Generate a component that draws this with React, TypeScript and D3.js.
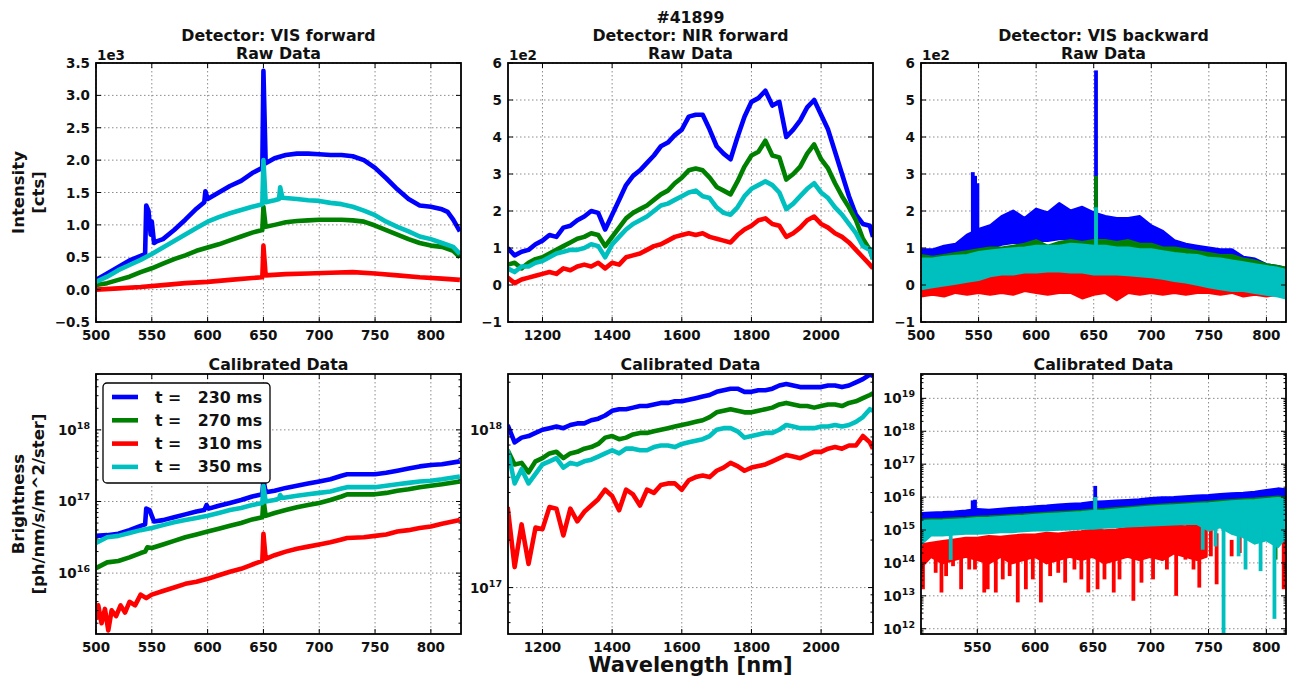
import React from 'react';
import * as d3 from 'd3';

const FONT = '"DejaVu Sans", "Liberation Sans", sans-serif';

const seriesColors = ['#0000ff', '#008000', '#ff0000', '#00bfbf'];
const seriesLabels = ['t =   230 ms', 't =   270 ms', 't =   310 ms', 't =   350 ms'];

// ---- VIS forward, raw data (units of 1e3 cts), [wavelength nm, value]
const visFwdRawBlue: [number, number][] = [
  [500, 0.15], [510, 0.25], [520, 0.35], [530, 0.45], [540, 0.52], [544, 0.55], [545, 1.3], [547, 1.22],
  [549, 0.85], [550, 1.05], [552, 0.72], [555, 0.75], [560, 0.78], [570, 0.92], [580, 1.08], [590, 1.25], [597, 1.35],
  [598, 1.52], [600, 1.4], [610, 1.5], [620, 1.6], [630, 1.68], [640, 1.8], [649, 1.88], [650, 3.38],
  [652, 1.95], [660, 2.03], [670, 2.08], [680, 2.1], [690, 2.1], [700, 2.09], [710, 2.08], [720, 2.08],
  [730, 2.06], [740, 2.0], [750, 1.88], [760, 1.72], [770, 1.55], [780, 1.4], [790, 1.3], [800, 1.28],
  [810, 1.24], [815, 1.2], [820, 1.08], [826, 0.9],
];
const visFwdRawGreen: [number, number][] = [
  [500, 0.07], [510, 0.1], [520, 0.15], [530, 0.2], [540, 0.27], [550, 0.33], [560, 0.4], [570, 0.47],
  [580, 0.53], [590, 0.6], [600, 0.65], [610, 0.7], [620, 0.76], [630, 0.82], [640, 0.88], [649, 0.92],
  [650, 1.28], [652, 0.97], [660, 1.0], [670, 1.04], [680, 1.06], [690, 1.07], [700, 1.08], [710, 1.08],
  [720, 1.08], [730, 1.07], [740, 1.05], [750, 0.99], [760, 0.92], [770, 0.85], [780, 0.78], [790, 0.72],
  [800, 0.68], [810, 0.66], [820, 0.6], [826, 0.5],
];
const visFwdRawRed: [number, number][] = [
  [500, 0.0], [520, 0.02], [540, 0.04], [560, 0.07], [580, 0.1], [600, 0.12], [620, 0.15], [640, 0.18],
  [649, 0.19], [650, 0.68], [652, 0.22], [670, 0.24], [690, 0.25], [710, 0.26], [730, 0.27], [750, 0.25],
  [770, 0.22], [790, 0.19], [810, 0.17], [826, 0.15],
];
const visFwdRawCyan: [number, number][] = [
  [500, 0.12], [510, 0.2], [520, 0.3], [530, 0.38], [540, 0.46], [550, 0.55], [560, 0.65], [570, 0.75],
  [580, 0.85], [590, 0.95], [600, 1.05], [610, 1.12], [620, 1.18], [630, 1.23], [640, 1.28], [649, 1.32],
  [650, 2.0], [652, 1.35], [660, 1.38], [664, 1.4], [665, 1.58], [667, 1.42], [680, 1.4], [690, 1.38],
  [700, 1.37], [710, 1.34], [720, 1.32], [730, 1.28], [740, 1.22], [750, 1.15], [760, 1.05], [770, 0.97],
  [780, 0.9], [790, 0.82], [800, 0.78], [810, 0.72], [820, 0.66], [826, 0.55],
];

// ---- NIR forward wavelengths (nm)
const nirWl = [
  1100, 1120, 1140, 1160, 1180, 1200, 1220, 1240, 1260, 1280, 1300, 1320, 1340, 1360, 1380, 1400, 1420, 1440,
  1460, 1480, 1500, 1520, 1540, 1560, 1580, 1600, 1620, 1640, 1660, 1680, 1700, 1720, 1740, 1760, 1780, 1800,
  1820, 1840, 1860, 1880, 1900, 1920, 1940, 1960, 1980, 2000, 2020, 2040, 2060, 2080, 2100, 2120, 2140, 2149,
];
// raw data, units of 1e2 cts
const nirRawBlue = [
  1.0, 0.8, 0.9, 0.95, 1.1, 1.2, 1.35, 1.3, 1.55, 1.6, 1.75, 1.85, 2.0, 1.95, 1.5, 1.9, 2.3, 2.7,
  2.95, 3.1, 3.3, 3.5, 3.75, 3.85, 4.05, 4.2, 4.55, 4.6, 4.6, 4.2, 3.75, 3.55, 3.4, 4.0, 4.55, 4.95,
  5.05, 5.25, 4.85, 4.95, 4.0, 4.2, 4.45, 4.8, 5.0, 4.6, 4.2, 3.6, 3.0, 2.4, 1.9, 1.65, 1.6, 1.3,
];
const nirRawGreen = [
  0.55, 0.6, 0.45, 0.6, 0.7, 0.75, 0.85, 0.95, 1.05, 1.15, 1.25, 1.3, 1.4, 1.35, 1.05, 1.3, 1.55, 1.8,
  1.95, 2.05, 2.15, 2.3, 2.45, 2.55, 2.75, 2.9, 3.1, 3.15, 3.1, 2.9, 2.65, 2.55, 2.45, 2.8, 3.2, 3.5,
  3.6, 3.9, 3.5, 3.45, 2.85, 3.0, 3.2, 3.55, 3.8, 3.4, 3.15, 2.75, 2.4, 2.1, 1.75, 1.25, 0.95, 0.7,
];
const nirRawRed = [
  0.2, 0.05, 0.15, 0.2, 0.25, 0.3, 0.35, 0.3, 0.45, 0.4, 0.5, 0.55, 0.5, 0.6, 0.45, 0.6, 0.55, 0.75,
  0.8, 0.85, 0.95, 1.05, 1.1, 1.2, 1.3, 1.35, 1.4, 1.35, 1.4, 1.3, 1.25, 1.2, 1.15, 1.35, 1.5, 1.6,
  1.75, 1.8, 1.65, 1.6, 1.3, 1.4, 1.55, 1.75, 1.85, 1.65, 1.55, 1.4, 1.3, 1.15, 0.95, 0.75, 0.55, 0.45,
];
const nirRawCyan = [
  0.45, 0.35, 0.5, 0.5, 0.6, 0.65, 0.75, 0.85, 0.9, 0.95, 0.95, 1.0, 1.1, 1.05, 0.75, 1.1, 1.3, 1.5,
  1.65, 1.75, 1.85, 2.0, 2.15, 2.2, 2.3, 2.4, 2.5, 2.55, 2.4, 2.35, 2.1, 1.95, 1.9, 2.1, 2.4, 2.6,
  2.7, 2.8, 2.7, 2.5, 2.05, 2.2, 2.4, 2.6, 2.75, 2.5, 2.35, 2.1, 1.9, 1.65, 1.4, 1.05, 0.95, 0.7,
];

// ---- VIS backward raw (units of 1e2 cts): noise band edges
const visBwdWl = [
  500, 510, 520, 530, 540, 550, 560, 570, 580, 590, 600, 610, 620, 630, 640, 650, 660,
  670, 680, 690, 700, 710, 720, 730, 740, 750, 760, 770, 780, 790, 800, 810, 817,
];
const visBwdRawBlueHi = [
  0.95, 0.95, 1.05, 1.1, 1.35, 1.5, 1.6, 1.85, 2.0, 1.8, 2.05, 1.95, 2.2, 2.0, 2.1, 1.95, 1.85,
  1.8, 1.8, 1.85, 1.6, 1.45, 1.2, 1.1, 1.05, 1.0, 0.95, 0.95, 0.75, 0.7, 0.55, 0.5, 0.45,
];
const visBwdRawBlueLo = [
  0.55, 0.6, 0.65, 0.7, 0.8, 0.9, 1.0, 1.1, 1.15, 1.15, 1.2, 1.2, 1.25, 1.25, 1.2, 1.2, 1.1,
  1.05, 1.0, 0.95, 0.9, 0.8, 0.7, 0.6, 0.55, 0.5, 0.45, 0.4, 0.35, 0.3, 0.25, 0.2, 0.15,
];
const visBwdRawGreenHi = [
  0.8, 0.75, 0.8, 0.85, 0.9, 0.95, 1.0, 1.0, 1.05, 1.1, 1.2, 1.05, 1.15, 1.2, 1.15, 1.2, 1.2,
  1.15, 1.2, 1.1, 1.1, 1.0, 1.0, 0.95, 0.9, 0.85, 0.8, 0.8, 0.7, 0.65, 0.55, 0.5, 0.45,
];
const visBwdRawGreenLo = [
  0.1, 0.15, 0.2, 0.25, 0.3, 0.35, 0.4, 0.4, 0.45, 0.45, 0.45, 0.45, 0.45, 0.45, 0.45, 0.4, 0.4,
  0.4, 0.4, 0.35, 0.35, 0.3, 0.25, 0.2, 0.15, 0.1, 0.05, 0.0, 0.0, -0.05, -0.1, -0.15, -0.2,
];
const visBwdRawRedHi = [
  0.0, 0.05, 0.1, 0.15, 0.2, 0.3, 0.25, 0.3, 0.35, 0.3, 0.4, 0.35, 0.4, 0.35, 0.4, 0.35, 0.35,
  0.3, 0.35, 0.3, 0.25, 0.2, 0.2, 0.15, 0.1, 0.05, 0.05, 0.0, -0.05, -0.05, -0.1, -0.1, -0.15,
];
const visBwdRawRedLo = [
  -0.3, -0.25, -0.3, -0.2, -0.25, -0.2, -0.25, -0.2, -0.25, -0.15, -0.2, -0.25, -0.2, -0.2, -0.35, -0.25, -0.2,
  -0.4, -0.2, -0.25, -0.2, -0.25, -0.2, -0.25, -0.2, -0.2, -0.25, -0.2, -0.3, -0.25, -0.3, -0.25, -0.3,
];
const visBwdRawCyanHi = [
  0.7, 0.7, 0.75, 0.78, 0.8, 0.88, 0.92, 0.95, 0.98, 1.0, 1.05, 1.05, 1.05, 1.1, 1.08, 1.05, 1.05,
  1.0, 1.0, 0.95, 0.95, 0.9, 0.85, 0.82, 0.8, 0.72, 0.7, 0.65, 0.6, 0.55, 0.5, 0.45, 0.4,
];
const visBwdRawCyanLo = [
  -0.1, -0.05, 0.0, 0.05, 0.1, 0.15, 0.25, 0.3, 0.3, 0.35, 0.35, 0.38, 0.38, 0.35, 0.35, 0.3, 0.3,
  0.3, 0.28, 0.25, 0.22, 0.18, 0.12, 0.08, 0.02, -0.05, -0.1, -0.15, -0.15, -0.2, -0.25, -0.3, -0.35,
];
// line peaks [wavelength, value]
const visBwdRawBluePeaks: [number, number][] = [[545, 3.05], [547, 2.95], [549, 2.75], [652, 5.8]];
const visBwdRawGreenPeaks: [number, number][] = [[652, 2.95]];
const visBwdRawCyanPeaks: [number, number][] = [[652, 2.1]];

// ---- VIS forward, calibrated (log10 of ph/nm/s/m^2/ster)
const visFwdCalBlue: [number, number][] = [
  [500, 16.52], [510, 16.53], [520, 16.55], [530, 16.6], [540, 16.66], [544, 16.68], [545, 16.9], [548, 16.88],
  [550, 16.8], [552, 16.72], [560, 16.74], [570, 16.78], [580, 16.82], [590, 16.86], [597, 16.88], [599, 16.95],
  [601, 16.9], [610, 16.94], [620, 16.98], [630, 17.02], [640, 17.07], [649, 17.1], [650, 17.3], [652, 17.13],
  [660, 17.15], [670, 17.19], [680, 17.22], [690, 17.25], [700, 17.28], [710, 17.31], [720, 17.36], [725, 17.38],
  [740, 17.38], [750, 17.38], [760, 17.4], [770, 17.43], [780, 17.46], [790, 17.49], [800, 17.51], [810, 17.52],
  [826, 17.56],
];
const visFwdCalGreen: [number, number][] = [
  [500, 16.07], [510, 16.15], [520, 16.17], [530, 16.22], [540, 16.28], [544, 16.3], [546, 16.36], [550, 16.35],
  [560, 16.4], [570, 16.45], [580, 16.5], [590, 16.54], [600, 16.58], [610, 16.62], [620, 16.66], [630, 16.7],
  [640, 16.75], [649, 16.78], [650, 17.03], [652, 16.8], [660, 16.84], [670, 16.88], [680, 16.92], [690, 16.95],
  [700, 16.98], [710, 17.02], [720, 17.07], [725, 17.1], [740, 17.1], [750, 17.1], [760, 17.12], [770, 17.15],
  [780, 17.17], [790, 17.2], [800, 17.22], [810, 17.24], [826, 17.28],
];
const visFwdCalRed: [number, number][] = [
  [500, 15.35], [502, 15.55], [505, 15.3], [508, 15.5], [511, 15.2], [514, 15.48], [518, 15.4], [522, 15.55],
  [526, 15.45], [530, 15.6], [535, 15.55], [540, 15.7], [545, 15.65], [550, 15.7], [560, 15.75], [570, 15.8],
  [580, 15.85], [590, 15.88], [600, 15.92], [610, 15.97], [620, 16.02], [630, 16.06], [640, 16.12], [649, 16.17],
  [650, 16.55], [652, 16.2], [660, 16.25], [670, 16.3], [680, 16.34], [690, 16.37], [700, 16.4], [710, 16.43],
  [720, 16.47], [725, 16.49], [740, 16.5], [750, 16.52], [760, 16.54], [770, 16.58], [780, 16.6], [790, 16.63],
  [800, 16.65], [810, 16.69], [826, 16.74],
];
const visFwdCalCyan: [number, number][] = [
  [500, 16.42], [510, 16.5], [520, 16.52], [530, 16.56], [540, 16.6], [550, 16.63], [560, 16.67], [570, 16.71],
  [580, 16.74], [590, 16.77], [600, 16.8], [610, 16.84], [620, 16.88], [630, 16.91], [640, 16.95], [649, 16.98],
  [650, 17.22], [652, 17.0], [660, 17.02], [664, 17.04], [665, 17.09], [667, 17.05], [680, 17.08], [690, 17.1],
  [700, 17.12], [710, 17.14], [720, 17.18], [725, 17.2], [740, 17.2], [750, 17.2], [760, 17.22], [770, 17.24],
  [780, 17.26], [790, 17.28], [800, 17.29], [810, 17.31], [826, 17.35],
];

// ---- NIR forward, calibrated (log10)
const nirCalBlue = [
  18.03, 17.92, 17.95, 17.96, 17.98, 18.0, 18.01, 18.02, 18.01, 18.03, 18.04, 18.04, 18.06, 18.07, 18.09, 18.12, 18.13, 18.13,
  18.14, 18.15, 18.15, 18.16, 18.17, 18.17, 18.18, 18.18, 18.19, 18.2, 18.21, 18.22, 18.24, 18.25, 18.26, 18.26, 18.24, 18.24,
  18.25, 18.25, 18.26, 18.28, 18.29, 18.28, 18.27, 18.27, 18.27, 18.27, 18.28, 18.28, 18.27, 18.28, 18.3, 18.32, 18.35, 18.34,
];
const nirCalGreen = [
  17.87, 17.78, 17.79, 17.73, 17.8, 17.82, 17.85, 17.86, 17.82, 17.85, 17.86, 17.88, 17.89, 17.91, 17.95, 17.96, 17.94, 17.95,
  17.97, 17.98, 17.98, 17.99, 18.0, 18.01, 18.02, 18.03, 18.04, 18.05, 18.06, 18.08, 18.11, 18.12, 18.13, 18.12, 18.11, 18.11,
  18.12, 18.13, 18.14, 18.16, 18.17, 18.16, 18.15, 18.15, 18.14, 18.15, 18.16, 18.16, 18.15, 18.17, 18.18, 18.2, 18.22, 18.23,
];
const nirCalRed = [
  17.51, 17.13, 17.4, 17.15, 17.38, 17.37, 17.51, 17.5, 17.33, 17.5, 17.42, 17.48, 17.52, 17.56, 17.62, 17.58, 17.49, 17.62,
  17.59, 17.52, 17.62, 17.6, 17.65, 17.66, 17.66, 17.62, 17.68, 17.7, 17.71, 17.7, 17.74, 17.76, 17.79, 17.77, 17.74, 17.76,
  17.77, 17.78, 17.8, 17.82, 17.84, 17.83, 17.82, 17.84, 17.86, 17.86, 17.88, 17.89, 17.88, 17.9, 17.9, 17.96, 17.92, 17.88,
];
const nirCalCyan = [
  17.87, 17.66, 17.75, 17.66, 17.72, 17.78, 17.8, 17.82, 17.76, 17.79, 17.78, 17.8, 17.81, 17.83, 17.85, 17.87, 17.85, 17.88,
  17.88, 17.87, 17.87, 17.89, 17.9, 17.9, 17.89, 17.91, 17.92, 17.93, 17.94, 17.96, 18.0, 18.01, 18.01, 17.99, 17.95, 17.96,
  17.97, 17.98, 17.98, 18.0, 18.03, 18.02, 18.01, 18.01, 18.01, 18.02, 18.02, 18.03, 18.02, 18.03, 18.05, 18.08, 18.13, 18.12,
];

// ---- VIS backward, calibrated (log10): noise band edges
const visBwdCalWl = [
  502, 510, 520, 530, 540, 550, 560, 570, 580, 590, 600, 610, 620, 630, 640, 650, 660,
  670, 680, 690, 700, 710, 720, 730, 740, 750, 760, 770, 780, 790, 800, 810, 817,
];
const visBwdCalBlueHi = [
  15.5, 15.52, 15.53, 15.55, 15.58, 15.62, 15.6, 15.63, 15.66, 15.68, 15.71, 15.73, 15.76, 15.78, 15.8, 15.84, 15.86,
  15.88, 15.9, 15.92, 15.96, 15.98, 15.99, 16.01, 16.03, 16.05, 16.08, 16.1, 16.12, 16.15, 16.2, 16.25, 16.22,
];
const visBwdCalBlueLo = [
  15.3, 15.31, 15.32, 15.34, 15.36, 15.38, 15.38, 15.41, 15.43, 15.44, 15.46, 15.49, 15.52, 15.54, 15.56, 15.6, 15.62,
  15.65, 15.67, 15.7, 15.74, 15.76, 15.78, 15.8, 15.82, 15.84, 15.86, 15.88, 15.9, 15.93, 15.98, 16.02, 16.0,
];
const visBwdCalGreenHi = [
  15.3, 15.31, 15.32, 15.34, 15.36, 15.39, 15.4, 15.42, 15.44, 15.46, 15.49, 15.51, 15.53, 15.55, 15.57, 15.6, 15.62,
  15.65, 15.68, 15.71, 15.74, 15.76, 15.78, 15.8, 15.82, 15.84, 15.87, 15.9, 15.92, 15.94, 15.97, 16.0, 15.98,
];
const visBwdCalGreenLo = [
  14.9, 14.95, 14.95, 14.98, 15.0, 15.0, 15.02, 15.05, 15.05, 15.08, 15.1, 15.1, 15.12, 15.13, 15.15, 15.15, 15.18,
  15.2, 15.22, 15.24, 15.25, 15.27, 15.28, 15.3, 15.3, 15.2, 15.25, 15.1, 15.0, 14.9, 14.95, 14.8, 15.0,
];
const visBwdCalCyanHi = [
  15.26, 15.27, 15.28, 15.3, 15.32, 15.35, 15.36, 15.38, 15.4, 15.42, 15.45, 15.47, 15.49, 15.51, 15.53, 15.56, 15.58,
  15.61, 15.64, 15.67, 15.7, 15.72, 15.74, 15.76, 15.78, 15.8, 15.83, 15.86, 15.88, 15.9, 15.93, 15.96, 15.94,
];
const visBwdCalCyanLo = [
  14.6, 14.85, 14.85, 14.88, 14.9, 14.9, 14.92, 14.95, 14.95, 14.98, 15.0, 15.0, 15.02, 15.03, 15.05, 15.05, 15.08,
  15.1, 15.12, 15.14, 15.15, 15.17, 15.18, 15.2, 15.2, 15.0, 15.1, 14.9, 14.8, 14.6, 14.7, 14.5, 14.8,
];
const visBwdCalRedWl = [
  502, 510, 520, 530, 540, 550, 560, 570, 580, 590, 600, 610, 620, 630, 640, 650, 660,
  670, 680, 690, 700, 710, 720, 730, 740, 748,
];
const visBwdCalRedHi = [
  14.55, 14.6, 14.65, 14.7, 14.75, 14.75, 14.8, 14.78, 14.82, 14.85, 14.85, 14.9, 14.88, 14.92, 14.95, 15.0, 14.98,
  15.0, 15.05, 15.05, 15.1, 15.1, 15.12, 15.1, 15.15, 15.1,
];
const visBwdCalRedLo = [
  13.9, 14.2, 14.0, 14.1, 14.2, 14.1, 14.0, 14.2, 14.0, 14.1, 14.2, 14.0, 14.1, 14.2, 14.1, 14.2, 14.0,
  14.1, 14.2, 14.1, 14.2, 14.1, 14.3, 14.2, 14.1, 14.2,
];
// single-pixel excursions [wavelength, log10 value]
const visBwdCalBluePeaks: [number, number][] = [[546, 15.9], [548, 15.92], [652, 16.34]];
const visBwdCalGreenPeaks: [number, number][] = [[652, 16.0], [808, 14.1]];
const visBwdCalCyanPeaks: [number, number][] = [
  [527, 14.09], [652, 16.0], [745, 14.4], [756, 14.5], [763, 11.5], [776, 14.2], [782, 13.8], [795, 13.75], [807, 12.3],
];
const visBwdCalRedPeaks: [number, number][] = [
  [503, 13.2], [507, 14.1], [514, 13.7], [519, 13.1], [523, 13.6], [529, 13.9], [536, 13.2], [543, 13.8], [548, 13.8],
  [556, 13.1], [559, 13.2], [566, 13.1], [572, 13.5], [578, 13.6], [585, 12.8], [592, 13.2], [598, 13.5], [605, 12.8],
  [613, 13.6], [620, 13.7], [626, 13.4], [634, 13.8], [640, 13.5], [646, 13.1], [654, 13.2], [660, 13.5], [668, 13.1],
  [673, 13.5], [685, 12.85], [692, 13.4], [702, 13.5], [714, 13.8], [722, 13.0], [730, 14.1], [737, 13.8], [742, 13.25],
];
// red fragments beyond 748 nm [wavelength, top, bottom]
const visBwdCalRedBits: [number, number, number][] = [
  [752, 15.0, 14.2], [757, 14.9, 13.35], [770, 14.7, 14.2], [777, 14.8, 14.3], [815, 15.0, 13.2],
];

// ---- layout
const COLS = [{ l: 96, r: 461 }, { l: 508, r: 873 }, { l: 921, r: 1286 }];
const ROWS = [{ t: 63, b: 322 }, { t: 374, b: 634 }];
const LINE_W = 4.6;

type Scale = (v: number) => number;

const exp10 = (e: number) => Math.pow(10, e);

function logTicks(lo: number, hi: number) {
  const major: number[] = [];
  const minor: number[] = [];
  for (let k = Math.floor(lo); k <= Math.ceil(hi); k++) {
    if (k >= lo && k <= hi) major.push(k);
    for (let m = 2; m <= 9; m++) {
      const e = k + Math.log10(m);
      if (e >= lo && e <= hi) minor.push(e);
    }
  }
  return { major, minor };
}

interface AxesProps {
  id: string;
  col: number;
  row: number;
  x: d3.ScaleLinear<number, number>;
  y: any;
  xTicks: number[];
  yTicks: number[];
  yLabels: (v: number) => React.ReactNode;
  yMinor?: number[];
  mult?: string;
  children?: React.ReactNode;
}

function Axes({ id, col, row, x, y, xTicks, yTicks, yLabels, yMinor = [], mult, children }: AxesProps) {
  const { l, r } = COLS[col];
  const { t, b } = ROWS[row];
  const xT = xTicks.filter(v => x(v) >= l - 0.5 && x(v) <= r + 0.5);
  return (
    <g>
      <clipPath id={id}>
        <rect x={l} y={t} width={r - l} height={b - t} />
      </clipPath>
      <g stroke="#8c8c8c" strokeWidth={1} strokeDasharray="1.5,2.5">
        {xT.map(v => <line key={'gx' + v} x1={x(v)} x2={x(v)} y1={t} y2={b} />)}
        {yTicks.map(v => <line key={'gy' + v} x1={l} x2={r} y1={y(v)} y2={y(v)} />)}
      </g>
      <g clipPath={`url(#${id})`}>{children}</g>
      <g stroke="#000" strokeWidth={1}>
        {xT.map(v => (
          <g key={'tx' + v}>
            <line x1={x(v)} x2={x(v)} y1={b} y2={b - 5} />
            <line x1={x(v)} x2={x(v)} y1={t} y2={t + 5} />
          </g>
        ))}
        {yTicks.map(v => (
          <g key={'ty' + v}>
            <line x1={l} x2={l + 5} y1={y(v)} y2={y(v)} />
            <line x1={r} x2={r - 5} y1={y(v)} y2={y(v)} />
          </g>
        ))}
        {yMinor.map(v => (
          <g key={'tm' + v}>
            <line x1={l} x2={l + 2.5} y1={y(v)} y2={y(v)} />
            <line x1={r} x2={r - 2.5} y1={y(v)} y2={y(v)} />
          </g>
        ))}
      </g>
      <rect x={l} y={t} width={r - l} height={b - t} fill="none" stroke="#000" strokeWidth={1.8} />
      <g fontFamily={FONT} fontWeight="bold" fontSize={13.5} fill="#111">
        {xT.map(v => (
          <text key={'lx' + v} x={x(v)} y={b + 18} textAnchor="middle">{v}</text>
        ))}
        {yTicks.map(v => (
          <text key={'ly' + v} x={l - 6} y={y(v) + 5} textAnchor="end">{yLabels(v)}</text>
        ))}
        {mult && <text x={l + 1} y={t - 3}>{mult}</text>}
      </g>
    </g>
  );
}

const linFmt1 = d3.format('.1f');
const linFmt0 = d3.format('d');
const powLabel = (v: number) => (
  <>
    10<tspan dy={-6} fontSize={9.5}>{v}</tspan>
  </>
);

function Line({ data, x, y, color }: { data: [number, number][]; x: Scale; y: Scale; color: string }) {
  const gen = d3.line<[number, number]>().x(d => x(d[0])).y(d => y(d[1]));
  return <path d={gen(data) || ''} fill="none" stroke={color} strokeWidth={LINE_W} strokeLinejoin="round" />;
}

function Band({ wl, lo, hi, x, y, color }: { wl: number[]; lo: number[]; hi: number[]; x: Scale; y: Scale; color: string }) {
  const pts = wl.map((w, i) => [w, lo[i], hi[i]] as [number, number, number]);
  const gen = d3.area<[number, number, number]>().x(d => x(d[0])).y0(d => y(d[1])).y1(d => y(d[2]));
  return <path d={gen(pts) || ''} fill={color} stroke={color} strokeWidth={3} strokeLinejoin="round" />;
}

function Peaks({ peaks, wl, lo, hi, x, y, color }: {
  peaks: [number, number][]; wl: number[]; lo: number[]; hi: number[]; x: Scale; y: Scale; color: string;
}) {
  return (
    <g stroke={color} strokeWidth={3.8}>
      {peaks.map(([w, v], k) => {
        const i = d3.minIndex(wl, d => Math.abs(d - w));
        const mid = (lo[i] + hi[i]) / 2;
        return <line key={k} x1={x(w)} x2={x(w)} y1={y(mid)} y2={y(v)} />;
      })}
    </g>
  );
}

export default function App() {
  // scales
  const xVis = d3.scaleLinear().domain([500, 827]).range([COLS[0].l, COLS[0].r]);
  const xNir = d3.scaleLinear().domain([1101, 2149]).range([COLS[1].l, COLS[1].r]);
  const xBwdTop = d3.scaleLinear().domain([500, 817]).range([COLS[2].l, COLS[2].r]);
  const xBwdBot = d3.scaleLinear().domain([501.3, 817]).range([COLS[2].l, COLS[2].r]);

  const yTL = d3.scaleLinear().domain([-0.5, 3.5]).range([ROWS[0].b, ROWS[0].t]);
  const yTM = d3.scaleLinear().domain([-1, 6]).range([ROWS[0].b, ROWS[0].t]);
  const yTR = d3.scaleLinear().domain([-1, 6]).range([ROWS[0].b, ROWS[0].t]);

  const blDom = [15.15, 18.78];
  const bmDom = [16.706, 18.353];
  const brDom = [11.84, 19.74];
  const yBLlog = d3.scaleLog().domain(blDom.map(exp10)).range([ROWS[1].b, ROWS[1].t]);
  const yBMlog = d3.scaleLog().domain(bmDom.map(exp10)).range([ROWS[1].b, ROWS[1].t]);
  const yBRlog = d3.scaleLog().domain(brDom.map(exp10)).range([ROWS[1].b, ROWS[1].t]);
  // data are stored as log10 values
  const yBL = (e: number) => yBLlog(exp10(e));
  const yBM = (e: number) => yBMlog(exp10(e));
  const yBR = (e: number) => yBRlog(exp10(e));

  const blT = logTicks(blDom[0], blDom[1]);
  const bmT = logTicks(bmDom[0], bmDom[1]);
  const brT = logTicks(brDom[0], brDom[1]);

  const visTicks = d3.range(500, 801, 50);
  const nirTicks = d3.range(1200, 2001, 200);

  const nir = (vals: number[]) => nirWl.map((w, i) => [w, vals[i]] as [number, number]);
  const [cB, cG, cR, cC] = seriesColors;

  const titleCx = COLS.map(c => (c.l + c.r) / 2);
  const ttl = { fontFamily: FONT, fontWeight: 'bold' as const, fontSize: 15.8, textAnchor: 'middle' as const, fill: '#111' };

  return (
    <svg width={1290} height={681} style={{ position: 'absolute', left: 0, top: 0, background: '#fff' }}>
      <rect width={1290} height={681} fill="#fff" />

      {/* titles */}
      <text {...ttl} x={titleCx[0]} y={40.5}>Detector: VIS forward</text>
      <text {...ttl} x={titleCx[0]} y={58.5}>Raw Data</text>
      <text {...ttl} x={titleCx[1]} y={22.5}>#41899</text>
      <text {...ttl} x={titleCx[1]} y={40.5}>Detector: NIR forward</text>
      <text {...ttl} x={titleCx[1]} y={58.5}>Raw Data</text>
      <text {...ttl} x={titleCx[2]} y={40.5}>Detector: VIS backward</text>
      <text {...ttl} x={titleCx[2]} y={58.5}>Raw Data</text>
      {titleCx.map((cx, i) => (
        <text key={'cal' + i} {...ttl} x={cx} y={370}>Calibrated Data</text>
      ))}

      {/* top-left */}
      <Axes id="c0" col={0} row={0} x={xVis} y={yTL} xTicks={visTicks} yTicks={d3.range(-0.5, 3.51, 0.5)}
        yLabels={v => linFmt1(v)} mult="1e3">
        <Line data={visFwdRawBlue} x={xVis} y={yTL} color={cB} />
        <Line data={visFwdRawGreen} x={xVis} y={yTL} color={cG} />
        <Line data={visFwdRawRed} x={xVis} y={yTL} color={cR} />
        <Line data={visFwdRawCyan} x={xVis} y={yTL} color={cC} />
      </Axes>

      {/* top-middle */}
      <Axes id="c1" col={1} row={0} x={xNir} y={yTM} xTicks={nirTicks} yTicks={d3.range(-1, 6.1, 1)}
        yLabels={v => linFmt0(v)} mult="1e2">
        <Line data={nir(nirRawBlue)} x={xNir} y={yTM} color={cB} />
        <Line data={nir(nirRawGreen)} x={xNir} y={yTM} color={cG} />
        <Line data={nir(nirRawRed)} x={xNir} y={yTM} color={cR} />
        <Line data={nir(nirRawCyan)} x={xNir} y={yTM} color={cC} />
      </Axes>

      {/* top-right */}
      <Axes id="c2" col={2} row={0} x={xBwdTop} y={yTR} xTicks={visTicks} yTicks={d3.range(-1, 6.1, 1)}
        yLabels={v => linFmt0(v)} mult="1e2">
        <Band wl={visBwdWl} lo={visBwdRawBlueLo} hi={visBwdRawBlueHi} x={xBwdTop} y={yTR} color={cB} />
        <Peaks peaks={visBwdRawBluePeaks} wl={visBwdWl} lo={visBwdRawBlueLo} hi={visBwdRawBlueHi} x={xBwdTop} y={yTR} color={cB} />
        <Band wl={visBwdWl} lo={visBwdRawGreenLo} hi={visBwdRawGreenHi} x={xBwdTop} y={yTR} color={cG} />
        <Peaks peaks={visBwdRawGreenPeaks} wl={visBwdWl} lo={visBwdRawGreenLo} hi={visBwdRawGreenHi} x={xBwdTop} y={yTR} color={cG} />
        <Band wl={visBwdWl} lo={visBwdRawRedLo} hi={visBwdRawRedHi} x={xBwdTop} y={yTR} color={cR} />
        <Band wl={visBwdWl} lo={visBwdRawCyanLo} hi={visBwdRawCyanHi} x={xBwdTop} y={yTR} color={cC} />
        <Peaks peaks={visBwdRawCyanPeaks} wl={visBwdWl} lo={visBwdRawCyanLo} hi={visBwdRawCyanHi} x={xBwdTop} y={yTR} color={cC} />
      </Axes>

      {/* bottom-left */}
      <Axes id="c3" col={0} row={1} x={xVis} y={yBL} xTicks={visTicks} yTicks={blT.major} yMinor={blT.minor}
        yLabels={powLabel}>
        <Line data={visFwdCalBlue} x={xVis} y={yBL} color={cB} />
        <Line data={visFwdCalGreen} x={xVis} y={yBL} color={cG} />
        <Line data={visFwdCalRed} x={xVis} y={yBL} color={cR} />
        <Line data={visFwdCalCyan} x={xVis} y={yBL} color={cC} />
      </Axes>

      {/* bottom-middle */}
      <Axes id="c4" col={1} row={1} x={xNir} y={yBM} xTicks={nirTicks} yTicks={bmT.major} yMinor={bmT.minor}
        yLabels={powLabel}>
        <Line data={nir(nirCalBlue)} x={xNir} y={yBM} color={cB} />
        <Line data={nir(nirCalGreen)} x={xNir} y={yBM} color={cG} />
        <Line data={nir(nirCalRed)} x={xNir} y={yBM} color={cR} />
        <Line data={nir(nirCalCyan)} x={xNir} y={yBM} color={cC} />
      </Axes>

      {/* bottom-right */}
      <Axes id="c5" col={2} row={1} x={xBwdBot} y={yBR} xTicks={visTicks} yTicks={brT.major} yMinor={brT.minor}
        yLabels={powLabel}>
        <Band wl={visBwdCalWl} lo={visBwdCalBlueLo} hi={visBwdCalBlueHi} x={xBwdBot} y={yBR} color={cB} />
        <Peaks peaks={visBwdCalBluePeaks} wl={visBwdCalWl} lo={visBwdCalBlueLo} hi={visBwdCalBlueHi} x={xBwdBot} y={yBR} color={cB} />
        <Band wl={visBwdCalWl} lo={visBwdCalGreenLo} hi={visBwdCalGreenHi} x={xBwdBot} y={yBR} color={cG} />
        <Peaks peaks={visBwdCalGreenPeaks} wl={visBwdCalWl} lo={visBwdCalGreenLo} hi={visBwdCalGreenHi} x={xBwdBot} y={yBR} color={cG} />
        <Band wl={visBwdCalRedWl} lo={visBwdCalRedLo} hi={visBwdCalRedHi} x={xBwdBot} y={yBR} color={cR} />
        <Peaks peaks={visBwdCalRedPeaks} wl={visBwdCalRedWl} lo={visBwdCalRedLo} hi={visBwdCalRedHi} x={xBwdBot} y={yBR} color={cR} />
        <g stroke={cR} strokeWidth={3.8}>
          {visBwdCalRedBits.map(([w, a, b], k) => (
            <line key={k} x1={xBwdBot(w)} x2={xBwdBot(w)} y1={yBR(a)} y2={yBR(b)} />
          ))}
        </g>
        <Band wl={visBwdCalWl} lo={visBwdCalCyanLo} hi={visBwdCalCyanHi} x={xBwdBot} y={yBR} color={cC} />
        <Peaks peaks={visBwdCalCyanPeaks} wl={visBwdCalWl} lo={visBwdCalCyanLo} hi={visBwdCalCyanHi} x={xBwdBot} y={yBR} color={cC} />
      </Axes>

      {/* legend */}
      <g>
        <rect x={103} y={383} width={167} height={100} rx={4} fill="#fff" stroke="#000" strokeWidth={1.3} />
        {seriesLabels.map((lab, i) => {
          const yy = 397 + i * 23.3;
          return (
            <g key={lab}>
              <line x1={112} x2={138} y1={yy} y2={yy} stroke={seriesColors[i]} strokeWidth={LINE_W} />
              <text x={155} y={yy + 5.5} fontFamily={FONT} fontWeight="bold" fontSize={15.8} fill="#111"
                style={{ whiteSpace: 'pre' }}>{lab}</text>
            </g>
          );
        })}
      </g>

      {/* axis labels */}
      <g fontFamily={FONT} fontWeight="bold" fontSize={16.5} fill="#111" textAnchor="middle">
        <text transform="translate(24,192.5) rotate(-90)">Intensity</text>
        <text transform="translate(44,192.5) rotate(-90)">[cts]</text>
        <text transform="translate(24,504) rotate(-90)">Brightness</text>
        <text transform="translate(44,504) rotate(-90)">[ph/nm/s/m^2/ster]</text>
      </g>
      <text x={690.5} y={672} fontFamily={FONT} fontWeight="bold" fontSize={21} textAnchor="middle" fill="#111">
        Wavelength [nm]
      </text>
    </svg>
  );
}
